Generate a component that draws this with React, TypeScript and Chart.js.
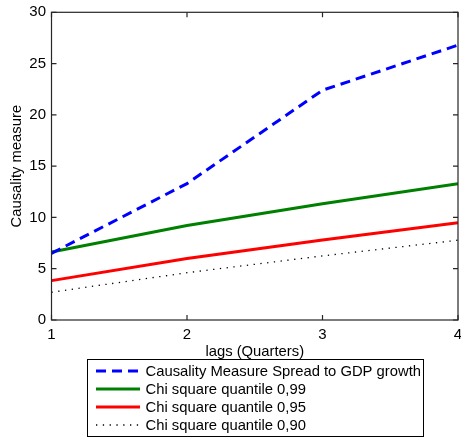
import Chart from 'chart.js/auto';
import { useRef, useEffect } from 'react';
import React from 'react';

const lags = [1, 2, 3, 4];
const causality = [6.5, 13.3, 22.4, 26.8];
const chi99 = [6.63, 9.21, 11.34, 13.28];
const chi95 = [3.84, 5.99, 7.81, 9.49];
const chi90 = [2.71, 4.61, 6.25, 7.78];
const seriesNames = [
  'Causality Measure Spread to GDP growth',
  'Chi square quantile 0,99',
  'Chi square quantile 0,95',
  'Chi square quantile 0,90',
];

const FONT = "'Liberation Sans', Arial, Helvetica, sans-serif";

// MATLAB-like box with inward ticks on all four sides
const boxPlugin = {
  id: 'matlabBox',
  afterDraw(chart: any) {
    const { ctx, chartArea: a, scales } = chart;
    ctx.save();
    ctx.strokeStyle = '#262626';
    ctx.lineWidth = 1.2;
    ctx.setLineDash([]);
    ctx.strokeRect(a.left, a.top, a.right - a.left, a.bottom - a.top);
    const len = 5;
    ctx.beginPath();
    scales.x.ticks.forEach((t: any) => {
      const px = scales.x.getPixelForValue(t.value);
      ctx.moveTo(px, a.bottom); ctx.lineTo(px, a.bottom - len);
      ctx.moveTo(px, a.top); ctx.lineTo(px, a.top + len);
    });
    scales.y.ticks.forEach((t: any) => {
      const py = scales.y.getPixelForValue(t.value);
      ctx.moveTo(a.left, py); ctx.lineTo(a.left + len, py);
      ctx.moveTo(a.right, py); ctx.lineTo(a.right - len, py);
    });
    ctx.stroke();
    ctx.restore();
  },
};

// boxed legend below the x axis title
const legendPlugin = {
  id: 'boxLegend',
  afterDraw(chart: any) {
    const { ctx } = chart;
    const left = 87.5, right = 423.5, top = 359.5, bottom = 436.5;
    ctx.save();
    ctx.fillStyle = '#fff';
    ctx.fillRect(left, top, right - left, bottom - top);
    ctx.strokeStyle = '#000';
    ctx.lineWidth = 1;
    ctx.setLineDash([]);
    ctx.strokeRect(left, top, right - left, bottom - top);
    ctx.font = `14.8px ${FONT}`;
    ctx.textBaseline = 'middle';
    ctx.textAlign = 'left';
    chart.data.datasets.forEach((ds: any, i: number) => {
      const y = 371 + i * 18;
      ctx.strokeStyle = ds.borderColor;
      ctx.lineWidth = ds.borderWidth;
      ctx.setLineDash(ds.borderDash || []);
      ctx.beginPath();
      ctx.moveTo(96, y);
      ctx.lineTo(140, y);
      ctx.stroke();
      ctx.fillStyle = '#000';
      ctx.fillText(ds.label, 145.5, y + 0.5);
    });
    ctx.restore();
  },
};

export default function App() {
  const chartRef = useRef<HTMLCanvasElement | null>(null);
  const chartInstance = useRef<Chart | null>(null);

  useEffect(() => {
    if (!chartRef.current) return;
    const ctx = chartRef.current.getContext('2d');
    if (!ctx) return;

    const pts = (vals: number[]) => lags.map((x, i) => ({ x, y: vals[i] }));

    chartInstance.current = new Chart(ctx, {
      type: 'line',
      data: {
        datasets: [
          { label: seriesNames[0], data: pts(causality), borderColor: '#0000ff', borderWidth: 3, borderDash: [10, 6] },
          { label: seriesNames[1], data: pts(chi99), borderColor: '#008000', borderWidth: 3 },
          { label: seriesNames[2], data: pts(chi95), borderColor: '#ff0000', borderWidth: 3 },
          { label: seriesNames[3], data: pts(chi90), borderColor: '#000000', borderWidth: 1.3, borderDash: [1.3, 5.5] },
        ],
      },
      options: {
        animation: false,
        responsive: true,
        maintainAspectRatio: false,
        elements: { point: { radius: 0 }, line: { tension: 0 } },
        layout: { padding: { top: 12.3, right: 3, left: 0, bottom: 74.3 } },
        plugins: { legend: { display: false }, tooltip: { enabled: false } },
        scales: {
          x: {
            type: 'linear',
            min: 1,
            max: 4,
            grid: { display: false, drawTicks: false },
            border: { display: false },
            ticks: { stepSize: 1, color: '#000', padding: 6, font: { family: FONT, size: 15 } },
            title: { display: true, text: 'lags (Quarters)', color: '#000', font: { family: FONT, size: 14.8 } },
            afterFit: (s: any) => { s.height = 44.7; s.paddingLeft = 0; s.paddingRight = 0; },
          },
          y: {
            min: 0,
            max: 30,
            grid: { display: false, drawTicks: false },
            border: { display: false },
            ticks: { stepSize: 5, color: '#000', padding: 5.5, font: { family: FONT, size: 15 } },
            title: {
              display: true,
              text: 'Causality measure',
              color: '#000',
              padding: { top: 8, bottom: 4 },
              font: { family: FONT, size: 14.8 },
            },
            afterFit: (s: any) => { s.width = 51.5; s.paddingTop = 0; s.paddingBottom = 0; },
          },
        },
      },
      plugins: [boxPlugin, legendPlugin],
    });

    return () => {
      if (chartInstance.current) {
        chartInstance.current.destroy();
      }
    };
  }, []);

  return (
    <div style={{ position: 'fixed', left: 0, top: 0, width: 461, height: 439, background: '#fff' }}>
      <canvas ref={chartRef} />
    </div>
  );
}
